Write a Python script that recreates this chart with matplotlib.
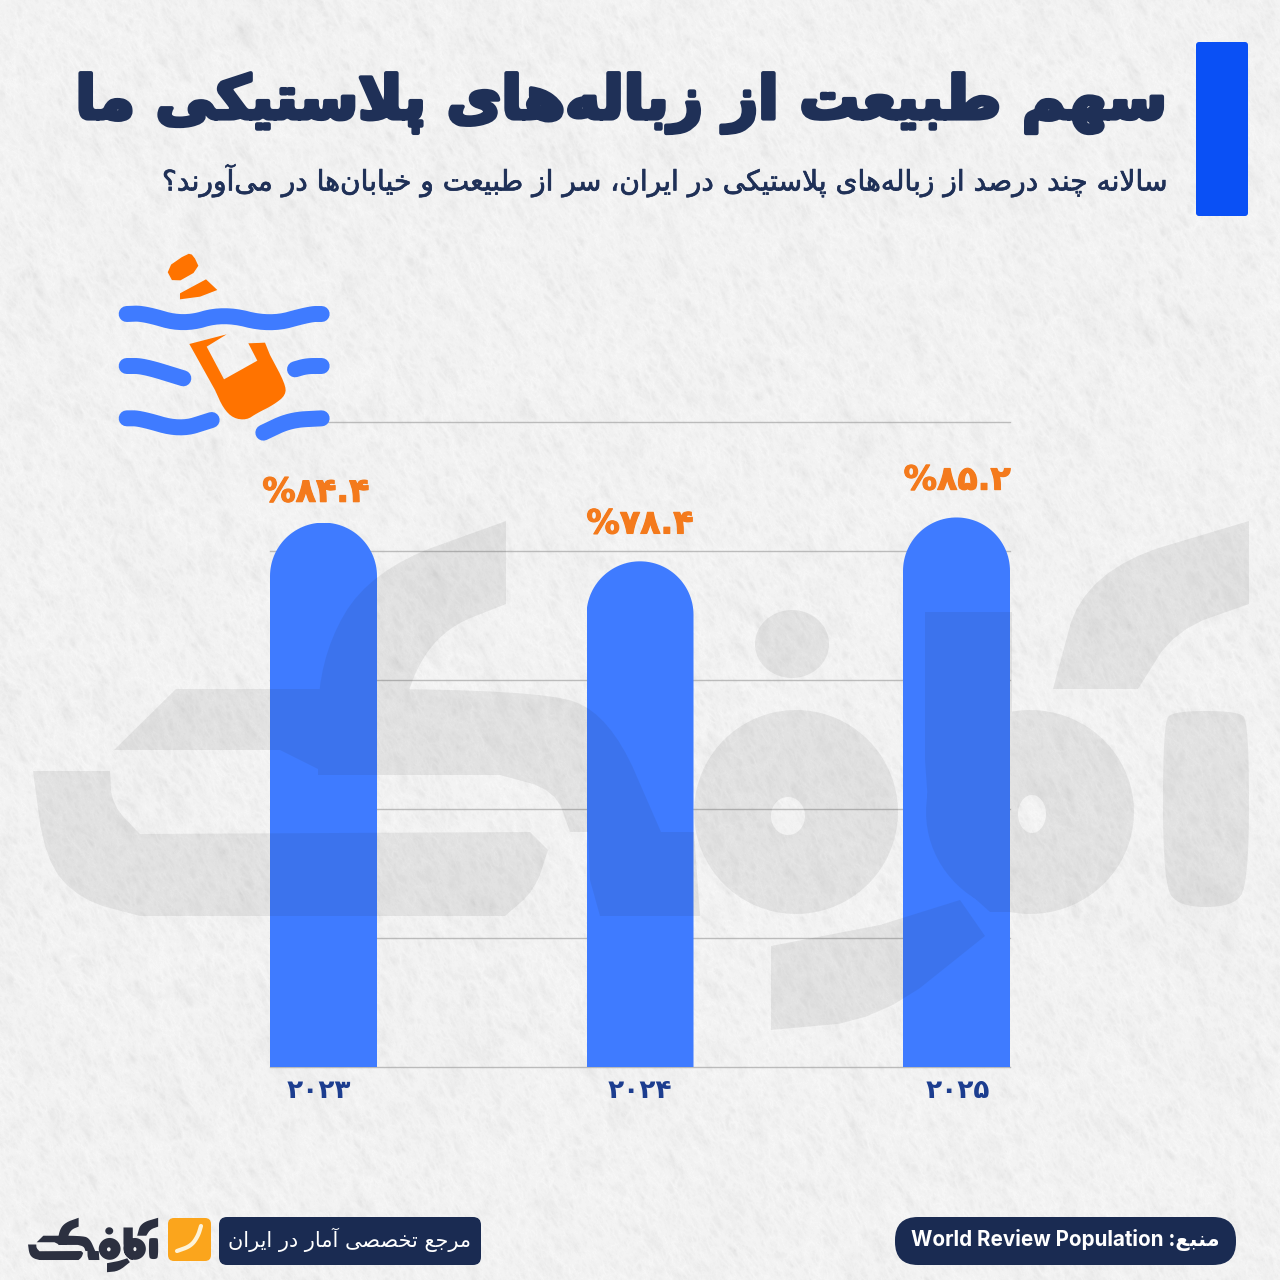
import re
import numpy as np
import matplotlib
matplotlib.use('Agg')
import matplotlib.pyplot as plt
import matplotlib.patheffects as pe
from matplotlib.patches import FancyBboxPatch, PathPatch
from matplotlib.path import Path
from matplotlib.transforms import Affine2D, ScaledTranslation

# chart values
years = ['۲۰۲۳', '۲۰۲۴', '۲۰۲۵']
shares = [84.4, 78.4, 85.2]
y_ticks = [0, 20, 40, 60, 80, 100]

title = 'سهم طبیعت از زباله‌های پلاستیکی ما'
subtitle = 'سالانه چند درصد از زباله‌های پلاستیکی در ایران، سر از طبیعت و خیابان‌ها در می‌آورند؟'
source = 'منبع: World Review Population'
slogan = 'مرجع تخصصی آمار در ایران'

NAVY = '#1f3057'
PILL = '#1a2b52'
BLUE = '#3f7bff'
ORANGE = '#f47a1c'
FA_DIGITS = str.maketrans('0123456789', '۰۱۲۳۴۵۶۷۸۹')

# presentation forms, iso / fin / ini / med are consecutive codes
DUAL = {'ب': 0xFE8F, 'ت': 0xFE95, 'ث': 0xFE99, 'ج': 0xFE9D, 'ح': 0xFEA1, 'خ': 0xFEA5,
        'س': 0xFEB1, 'ش': 0xFEB5, 'ص': 0xFEB9, 'ض': 0xFEBD, 'ط': 0xFEC1, 'ظ': 0xFEC5,
        'ع': 0xFEC9, 'غ': 0xFECD, 'ف': 0xFED1, 'ق': 0xFED5, 'ل': 0xFEDD, 'م': 0xFEE1,
        'ن': 0xFEE5, 'ه': 0xFEE9, 'پ': 0xFB56, 'چ': 0xFB7A, 'ک': 0xFB8E, 'گ': 0xFB92,
        'ی': 0xFBFC}
RIGHT = {'ا': 0xFE8D, 'آ': 0xFE81, 'د': 0xFEA9, 'ذ': 0xFEAB, 'ر': 0xFEAD, 'ز': 0xFEAF,
         'و': 0xFEED, 'ژ': 0xFB8A}


def shape(text):
    # matplotlib has no bidi or arabic shaping, so do it by hand
    text = text.replace('لا', '\uE000').replace('لآ', '\uE001')
    out = []
    for i, c in enumerate(text):
        prev = text[i - 1] if i > 0 else ''
        nxt = text[i + 1] if i + 1 < len(text) else ''
        joins_prev = prev in DUAL
        joins_next = nxt in DUAL or nxt in RIGHT or nxt in ('\uE000', '\uE001')
        if c == '\u200c':
            continue
        if c == '\uE000':
            out.append(chr(0xFEFC if joins_prev else 0xFEFB))
        elif c == '\uE001':
            out.append(chr(0xFEF6 if joins_prev else 0xFEF5))
        elif c in RIGHT:
            out.append(chr(RIGHT[c] + (1 if joins_prev else 0)))
        elif c in DUAL:
            if joins_prev and joins_next:
                k = 3
            elif joins_prev:
                k = 1
            elif joins_next:
                k = 2
            else:
                k = 0
            out.append(chr(DUAL[c] + k))
        else:
            out.append(c)
    vis = ''.join(out)[::-1]
    return re.sub(r'[A-Za-z][A-Za-z ]*[A-Za-z]', lambda m: m.group(0)[::-1], vis)


def chaikin(pts, n=3, closed=True):
    pts = np.array(pts, float)
    for _ in range(n):
        nxt = np.roll(pts, -1, axis=0) if closed else pts[1:]
        cur = pts if closed else pts[:-1]
        new = np.empty((len(cur) * 2, 2))
        new[0::2] = cur * .75 + nxt * .25
        new[1::2] = cur * .25 + nxt * .75
        if not closed:
            new = np.vstack([pts[0], new, pts[-1]])
        pts = new
    return pts


def ellipse(cx, cy, rx, ry):
    a = np.linspace(0, 2 * np.pi, 80)[:-1]
    return np.c_[cx + rx * np.cos(a), cy + ry * np.sin(a)]


def oriented(pts, ccw=True):
    x, y = pts[:, 0], pts[:, 1]
    area = np.sum(x * np.roll(y, -1) - np.roll(x, -1) * y)
    return pts if (area > 0) == ccw else pts[::-1]


def compound(solid, holes=()):
    verts, codes = [], []
    for pts, ccw in [(s, True) for s in solid] + [(h, False) for h in holes]:
        pts = oriented(pts, ccw)
        verts += list(pts) + [pts[0]]
        codes += [Path.MOVETO] + [Path.LINETO] * (len(pts) - 1) + [Path.CLOSEPOLY]
    return Path(np.array(verts), codes)


def poly(*pts):
    return np.array(pts, float)


# logo outline in pixels of the big watermark, corners kept sharp where the logo has them
logo_solid = [
    # lower bowl of the kaf
    np.vstack([poly((33, 771), (110, 771)),
               chaikin([(110, 771), (112, 805), (140, 834)], 2, closed=False),
               poly((530, 832), (548, 850)),
               chaikin([(548, 850), (535, 890), (505, 916)], 2, closed=False),
               chaikin([(140, 916), (80, 900), (45, 860), (33, 771)], 2, closed=False)]),
    # upper stroke of the kaf
    np.vstack([poly((114, 750), (176, 689)),
               chaikin([(176, 689), (540, 689), (610, 715), (661, 832)], 3, closed=False),
               chaikin([(570, 832), (555, 790), (500, 775)], 2, closed=False),
               poly((330, 775), (280, 750))]),
    # slanted top of the kaf
    np.vstack([poly((506, 521), (506, 604)),
               chaikin([(506, 604), (440, 630), (405, 690), (395, 775)], 3, closed=False),
               poly((318, 775)),
               chaikin([(318, 775), (318, 660), (370, 570), (506, 521)], 3, closed=False)]),
    poly((588, 832), (694, 832), (700, 916), (600, 916), (590, 880)),
    ellipse(792, 644, 37, 34),
    ellipse(796, 812, 102, 102),
    # tail under the fa
    np.vstack([poly((771, 946), (771, 1030)),
               chaikin([(771, 1030), (880, 1020), (985, 936)], 2, closed=False),
               poly((960, 900), (880, 925))]),
    # re
    np.vstack([poly((925, 612), (1012, 612), (1012, 912)),
               chaikin([(990, 912), (932, 860), (925, 760)], 2, closed=False)]),
    ellipse(1030, 812, 104, 102),
    # madda
    np.vstack([poly((1249, 521), (1249, 604)),
               chaikin([(1249, 604), (1175, 630), (1138, 689)], 2, closed=False),
               poly((1053, 689)),
               chaikin([(1053, 689), (1085, 570), (1249, 521)], 3, closed=False)]),
    # alef
    chaikin([(1163, 722), (1174, 711), (1238, 711), (1249, 722), (1249, 885), (1232, 907),
             (1180, 907), (1163, 885)], 3),
]
logo_holes = [ellipse(788, 816, 17, 19), ellipse(1032, 814, 14, 19)]


def paper_texture(n=1280, seed=3):
    # wrinkled paper: bright ridges where band limited noise crosses zero
    rng = np.random.default_rng(seed)
    fx = np.fft.fftfreq(n)[:, None]
    fy = np.fft.rfftfreq(n)[None, :]
    th = np.deg2rad(30)
    u = fx * np.cos(th) + fy * np.sin(th)
    v = -fx * np.sin(th) + fy * np.cos(th)
    img = np.zeros((n, n))
    for su, sv, amp in [(.006, .012, 1.0), (.025, .06, 2.6), (.08, .16, 2.8), (.25, .4, 1.6)]:
        f = np.exp(-(u / su) ** 2 - (v / sv) ** 2)
        layer = np.fft.irfft2(np.fft.rfft2(rng.normal(size=(n, n))) * f, s=(n, n))
        img += amp * np.abs(layer / layer.std())
    return np.clip(img * -1.0 + 247, 215, 252)


fig = plt.figure(figsize=(12.8, 12.8), dpi=100)
W = H = 1280.0

bg = fig.add_axes([0, 0, 1, 1], zorder=0)
bg.imshow(paper_texture(), cmap='gray', vmin=0, vmax=255, extent=(0, W, H, 0),
          aspect='auto', interpolation='bilinear')
bg.axis('off')

# bar chart
ax = fig.add_axes([270 / W, 1 - 1067 / H, 740 / W, 645 / H], zorder=1)
ax.patch.set_alpha(0)
bar_w = 107 / 316.5
x_pos = np.arange(len(years))
bars = ax.bar(x_pos, shares, width=bar_w, color=BLUE, zorder=3)
ax.set_xlim(-bar_w / 2, len(years) - 1 + bar_w / 2)
ax.set_ylim(y_ticks[0], y_ticks[-1])
ax.set_yticks(y_ticks)
ax.set_yticklabels([])
ax.set_xticks(x_pos)
ax.set_xticklabels(years, fontsize=19, fontweight='bold', color='#1c3d8f')
ax.tick_params(length=0, pad=8)
ax.grid(axis='y', color='#a9a9a9', lw=1.0, alpha=.75)
ax.set_axisbelow(True)
for g in ax.yaxis.get_gridlines():
    g.set_clip_on(False)
for s in ax.spines.values():
    s.set_visible(False)
for lab, dx in zip(ax.get_xticklabels(), [-5, 0, 1]):
    lab.set_transform(lab.get_transform() + ScaledTranslation(dx / 100, 0, fig.dpi_scale_trans))

ry = 53.5 / 6.45  # bar top is an arch, radius in data units
label_dx = [-5.5, 0, 0.5]
label_dy = [10, 15, 15]
for b, val, dx, dy in zip(bars, shares, label_dx, label_dy):
    a = np.linspace(0, np.pi, 60)
    cx = b.get_x() + b.get_width() / 2
    arch = np.c_[cx + b.get_width() / 2 * np.cos(a), val - ry + ry * np.sin(a)]
    pts = np.vstack([[cx + b.get_width() / 2, 0], arch, [cx - b.get_width() / 2, 0]])
    clip = PathPatch(Path(pts, closed=False), transform=ax.transData)
    b.set_clip_path(clip)
    ax.annotate('%' + f'{val:.1f}'.translate(FA_DIGITS), (cx, val), xytext=(dx, dy),
                textcoords='offset points', ha='center', va='bottom', fontsize=24,
                fontweight='bold', color=ORANGE, zorder=5,
                path_effects=[pe.withStroke(linewidth=.8, foreground=ORANGE)])

# everything else in pixel coordinates
ov = fig.add_axes([0, 0, 1, 1], zorder=2)
ov.set_xlim(0, W)
ov.set_ylim(H, 0)
ov.axis('off')
ov.patch.set_alpha(0)

ov.add_patch(PathPatch(compound(logo_solid, logo_holes), fc='#202020', ec='none', alpha=.08))

ov.add_patch(FancyBboxPatch((1196, 42), 52, 174, boxstyle='round,pad=0,rounding_size=3',
                            fc='#0a50f5', ec='none'))


def fit(txt, width):
    r = fig.canvas.get_renderer()
    txt.set_fontsize(txt.get_fontsize() * width / txt.get_window_extent(r).width)


t = ov.text(1165, 103, shape(title), ha='right', va='center', fontsize=50, fontweight='bold',
            color=NAVY, path_effects=[pe.withStroke(linewidth=3, foreground=NAVY)])
fit(t, 1093)
t2 = ov.text(1165, 181, shape(subtitle), ha='right', va='center', fontsize=21, color=NAVY,
             path_effects=[pe.withStroke(linewidth=.5, foreground=NAVY)])
fit(t2, 1005)


def z(points):
    return [(100 + a / 3, 240 + b / 3) for a, b in points]


# bottle icon
waves = [
    z([(80, 222), (130, 220), (250, 255), (370, 220), (510, 255), (630, 222), (665, 222)]),
    z([(80, 378), (130, 378), (250, 415)]),
    z([(585, 388), (620, 378), (665, 378)]),
    z([(80, 535), (120, 535), (240, 570), (335, 540)]),
    z([(490, 578), (570, 540), (665, 535)]),
]
for w in waves:
    p = chaikin(w, 3, closed=False)
    ov.plot(p[:, 0], p[:, 1], color=BLUE, lw=11.5, solid_capstyle='round')
body_low = chaikin(z([(510, 345), (555, 430), (558, 465), (520, 495), (470, 520), (440, 540),
                      (400, 535), (370, 505), (345, 450)]), 2, closed=False)
bottle = [
    chaikin(z([(197, 85), (262, 40), (280, 45), (300, 88), (222, 132)]), 1),
    z([(240, 160), (318, 118), (352, 150), (300, 170), (240, 178)]),
    np.vstack([z([(268, 312), (380, 283), (320, 320), (372, 418), (472, 362), (445, 310),
                  (495, 308)]), body_low]),
]
for b in bottle:
    ov.fill(*zip(*b), color='#ff7300', ec='none')

# footer
ov.add_patch(FancyBboxPatch((895, 1217), 341, 48, boxstyle='round,pad=0,rounding_size=23',
                            fc=PILL, ec='none'))
t3 = ov.text(1065, 1240, shape(source), ha='center', va='center', fontsize=15, fontweight='bold',
             color='white', family=['Inter', 'DejaVu Sans'])
fit(t3, 308)
ov.add_patch(FancyBboxPatch((219, 1217), 262, 48, boxstyle='round,pad=0,rounding_size=8',
                            fc=PILL, ec='none'))
t4 = ov.text(350, 1240, shape(slogan), ha='center', va='center', fontsize=15, color='white')
fit(t4, 244)
ov.add_patch(FancyBboxPatch((168, 1218), 43, 43, boxstyle='round,pad=0,rounding_size=6',
                            fc='#fba51c', ec='none'))
tick = chaikin([(177, 1251), (191, 1246), (198, 1236), (201, 1226)], 3, closed=False)
ov.plot(tick[:, 0], tick[:, 1], color='#fdf3d8', lw=3, solid_capstyle='round')

small = compound(logo_solid, logo_holes).transformed(Affine2D().scale(.107).translate(24.5, 1162))
ov.add_patch(PathPatch(small, fc='#2c3040', ec='none'))

fig.savefig('out.png', dpi=100)
